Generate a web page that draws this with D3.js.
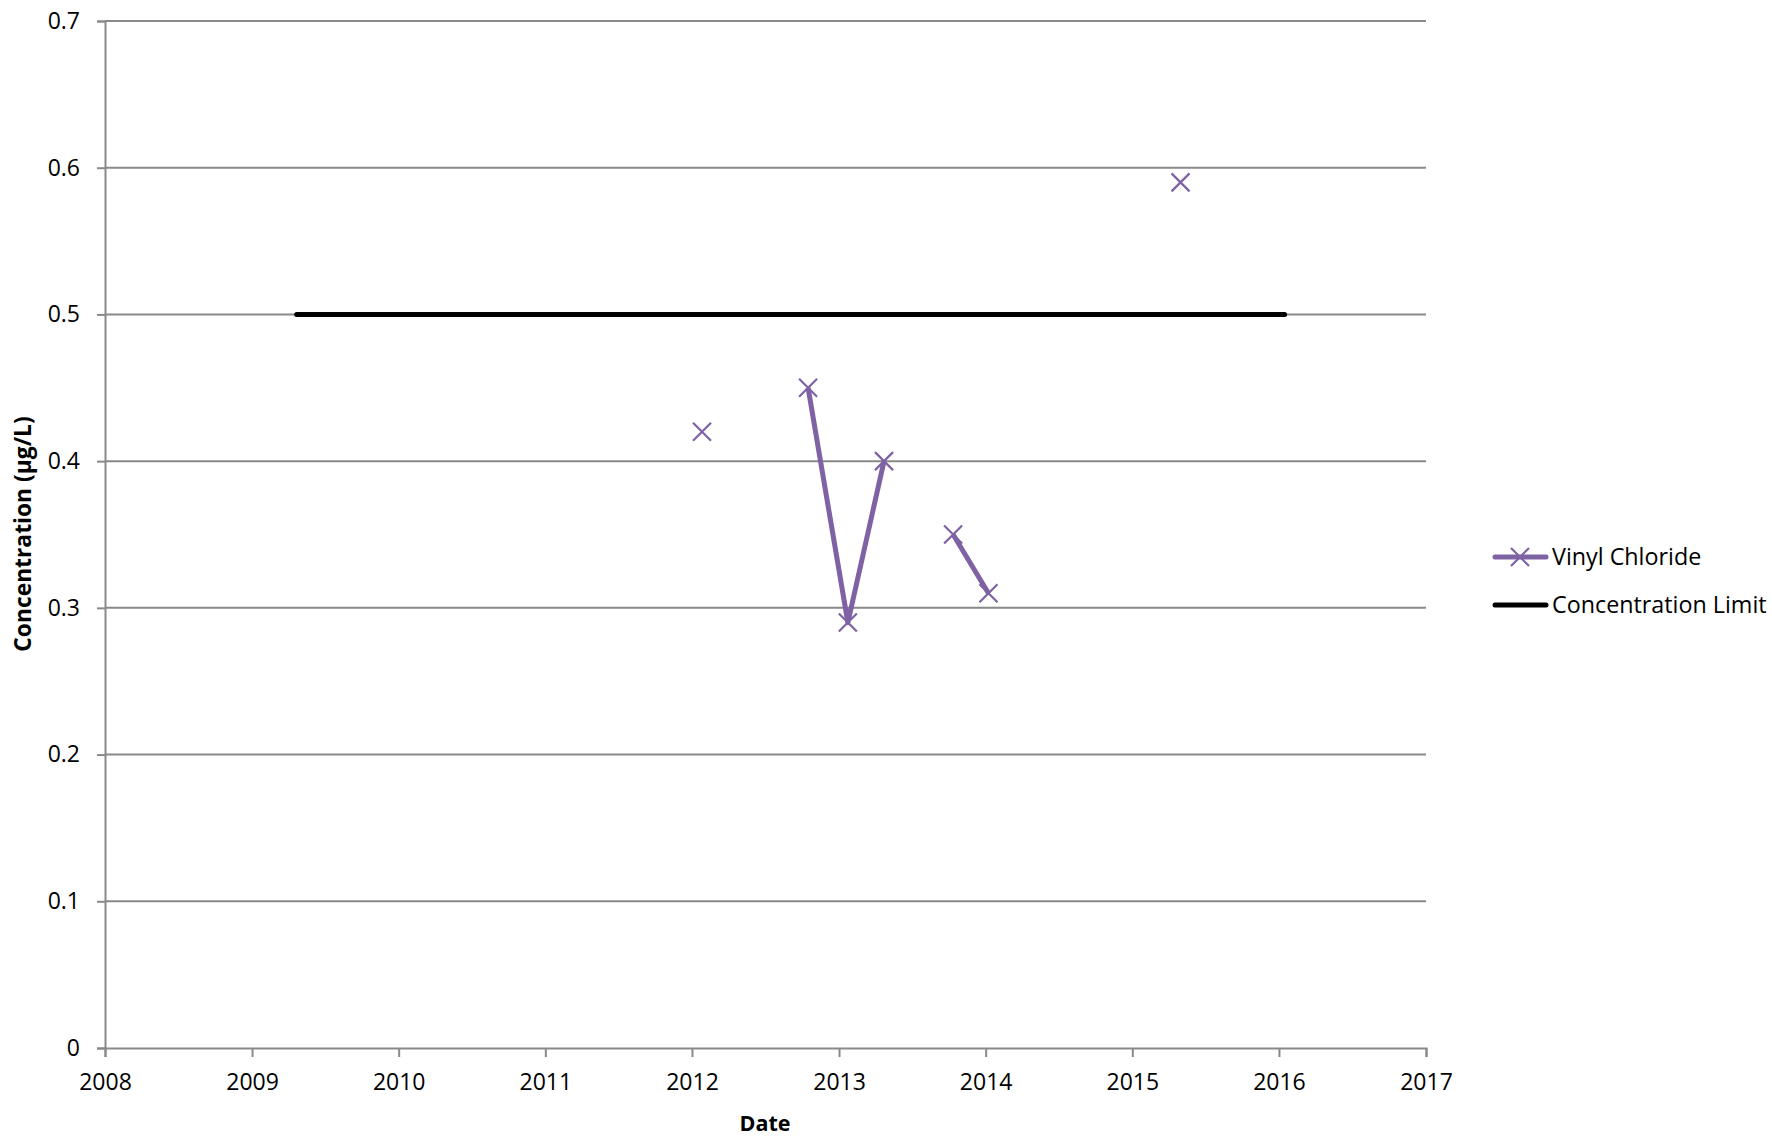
<!DOCTYPE html>
<html><head><meta charset="utf-8">
<script src="https://cdn.jsdelivr.net/npm/d3@7"></script>
<style>
html,body{margin:0;padding:0;background:#fff;}
svg text{font-family:"Open Sans","Liberation Sans",sans-serif;fill:#000;}
</style></head>
<body>
<svg id="chart" width="1772" height="1137"></svg>
<script>
// ---- data ----
const vcDates = ["2012-01-26","2012-10-16","2013-01-23","2013-04-23","2013-10-12","2014-01-08","2015-05-01"];
const vcValues = [0.42, 0.45, 0.29, 0.40, 0.35, 0.31, 0.59];
const vcSegment = [0, 1, 1, 1, 2, 2, 3]; // connected runs of samples
const limitDates = ["2009-04-22","2016-01-15"];
const limitValues = [0.5, 0.5];
const xTickYears = [2008,2009,2010,2011,2012,2013,2014,2015,2016,2017];
const yTickValues = [0,0.1,0.2,0.3,0.4,0.5,0.6,0.7];
const seriesNames = ["Vinyl Chloride","Concentration Limit"];

(function(){
// ---- layout ----
const svg = d3.select("#chart");
const pLeft = 105, pRight = 1426, pTop = 21, pBottom = 1048;
const parse = d3.timeParse("%Y-%m-%d");
const x = d3.scaleTime().domain([new Date(2008,0,1), new Date(2017,0,1)]).range([pLeft, pRight]);
const y = d3.scaleLinear().domain([0, 0.7]).range([pBottom, pTop]);
const purple = "#7E62A4", grid = "#898989";

// gridlines
svg.append("g").selectAll("line").data(yTickValues.filter(v=>v>0)).join("line")
  .attr("x1", pLeft).attr("x2", pRight).attr("y1", d=>y(d)).attr("y2", d=>y(d))
  .attr("stroke", grid).attr("stroke-width", 2);

// y axis
const yAxis = svg.append("g").attr("transform",`translate(${pLeft},0)`)
  .call(d3.axisLeft(y).tickValues(yTickValues).tickFormat(d=>d===0?"0":d3.format(".1f")(d)).tickSize(8).tickPadding(17));
// x axis
const xAxis = svg.append("g").attr("transform",`translate(0,${pBottom})`)
  .call(d3.axisBottom(x).tickValues(xTickYears.map(yr=>new Date(yr,0,1))).tickFormat(d3.timeFormat("%Y")).tickSize(9).tickPadding(17));
[yAxis, xAxis].forEach(g=>{
  g.selectAll("path").attr("stroke", grid).attr("stroke-width", 2);
  g.selectAll("line").attr("stroke", grid).attr("stroke-width", 2);
  g.selectAll("text").attr("font-size", 23).attr("font-family", '"Open Sans",sans-serif').attr("fill","#000");
});

// limit line
const line = d3.line().x(d=>x(d.date)).y(d=>y(d.value));
const limitData = limitDates.map((d,i)=>({date:parse(d), value:limitValues[i]}));
svg.append("path").datum(limitData).attr("d", line).attr("fill","none")
  .attr("stroke","#000").attr("stroke-width",5).attr("stroke-linecap","round");

// vinyl chloride
const vcData = vcDates.map((d,i)=>({date:parse(d), value:vcValues[i], seg:vcSegment[i]}));
const segs = d3.groups(vcData, d=>d.seg).map(g=>g[1]).filter(s=>s.length>1);
svg.append("g").selectAll("path").data(segs).join("path").attr("d", line)
  .attr("fill","none").attr("stroke",purple).attr("stroke-width",5).attr("stroke-linejoin","round");
const m = 9;
const marks = svg.append("g").selectAll("g").data(vcData).join("g")
  .attr("transform", d=>`translate(${x(d.date)},${y(d.value)})`);
marks.append("path").attr("d", `M${-m},${-m}L${m},${m}M${-m},${m}L${m},${-m}`)
  .attr("stroke",purple).attr("stroke-width",2.2).attr("fill","none");

// axis titles
svg.append("text").attr("x", 765).attr("y", 1131).attr("text-anchor","middle")
  .attr("font-size",21.5).attr("font-weight","bold").text("Date");
svg.append("text").attr("transform","translate(31,534) rotate(-90)").attr("text-anchor","middle")
  .attr("font-size",22.8).attr("font-weight","bold").text("Concentration (µg/L)");

// legend
const lg = svg.append("g");
const legY = [557, 605];
lg.append("line").attr("x1",1495).attr("x2",1546).attr("y1",legY[0]).attr("y2",legY[0])
  .attr("stroke",purple).attr("stroke-width",5).attr("stroke-linecap","round");
lg.append("path").attr("transform",`translate(1520,${legY[0]})`)
  .attr("d", `M${-m},${-m}L${m},${m}M${-m},${m}L${m},${-m}`).attr("stroke",purple).attr("stroke-width",2.2);
lg.append("line").attr("x1",1495).attr("x2",1546).attr("y1",legY[1]).attr("y2",legY[1])
  .attr("stroke","#000").attr("stroke-width",5).attr("stroke-linecap","round");
lg.selectAll("text").data(seriesNames).join("text")
  .attr("x",1552).attr("y",(d,i)=>legY[i]).attr("dy","0.35em").attr("font-size",23.3).text(d=>d);
})();
</script>
</body></html>
